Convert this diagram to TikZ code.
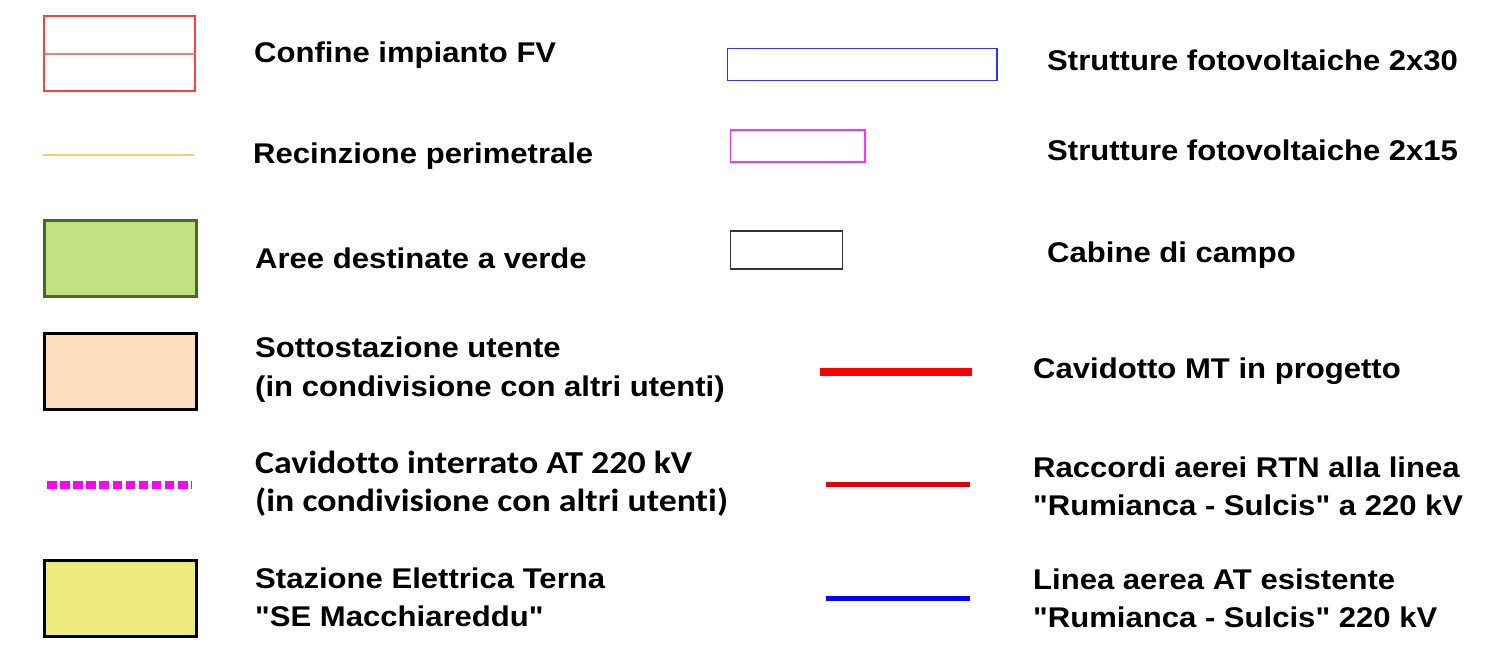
\documentclass[tikz,border=0pt]{standalone}
\usepackage{fontspec}
\newfontfamily\lab[FakeStretch=1.09]{Liberation Sans Bold}
\newfontfamily\labc[FakeStretch=1.12,Ligatures=NoCommon]{Carlito Bold}
\definecolor{confred}{HTML}{FF4040}
\definecolor{confline}{HTML}{FF7A7A}
\definecolor{fence}{HTML}{F0D070}
\definecolor{greenfill}{HTML}{C2E084}
\definecolor{greenedge}{HTML}{4B6B1C}
\definecolor{peach}{HTML}{FFDEC0}
\definecolor{yell}{HTML}{EDEB80}
\definecolor{magent}{HTML}{FF00FF}
\definecolor{rectblue}{HTML}{3030FF}
\definecolor{rectmag}{HTML}{FF30FF}
\definecolor{lred}{HTML}{FF0000}
\definecolor{dred}{HTML}{E00000}
\definecolor{lblue}{HTML}{0000FF}
\tikzset{
  lbl/.style={anchor=base west, inner sep=0pt, font=\lab\fontsize{28.5}{28.5}\selectfont},
  lblc/.style={anchor=base west, inner sep=0pt, font=\labc\fontsize{32}{32}\selectfont},
  thickbox/.style={line width=3pt},
}
\begin{document}
\begin{tikzpicture}[x=1pt,y=-1pt]
\useasboundingbox[fill=white] (0,0) rectangle (1496,651);
% left symbols
\draw[confred, line width=1.5pt] (44,16) rectangle (195,91);
\draw[confline, line width=2pt] (44.5,53.5) -- (194.5,53.5);
\draw[fence, line width=1.5pt] (43,155) -- (194,155);
\draw[thickbox, draw=greenedge, fill=greenfill] (44,220) rectangle (196,296);
\draw[thickbox, draw=black, fill=peach] (44,333) rectangle (196,409);
\draw[magent, line width=7.5pt, dash pattern=on 9.5pt off 3.6pt] (47,485) -- (192,485);
\draw[thickbox, draw=black, fill=yell] (44,560) rectangle (196,636);
% right symbols
\draw[rectblue, line width=1.3pt] (727.5,48.5) rectangle (997,80.5);
\draw[rectmag, line width=1.3pt] (730.5,130) rectangle (865,162);
\draw[black!80, line width=1.3pt] (730.5,231) rectangle (842.5,269);
\draw[lred, line width=8pt] (820,371.5) -- (972,371.5);
\draw[dred, line width=5pt] (826,484.5) -- (970,484.5);
\draw[lblue, line width=5pt] (826,598) -- (970,598);
% left texts
\node[lbl] (t1) at (254,62) {Confine impianto FV};
\node[lbl] (t2) at (253,163) {Recinzione perimetrale};
\node[lbl] (t3) at (255,268) {Aree destinate a verde};
\node[lbl] (t4a) at (255,357) {Sottostazione utente};
\node[lbl] (t4b) at (255,396) {(in condivisione con altri utenti)};
\node[lblc] (t5a) at (255,473) {Cavidotto interrato AT 220 kV};
\node[lblc] (t5b) at (255,511) {(in condivisione con altri utenti)};
\node[lbl] (t6a) at (255,588) {Stazione Elettrica Terna};
\node[lbl] (t6b) at (255,626) {"SE Macchiareddu"};
% right texts
\node[lbl] (r1) at (1047,70) {Strutture fotovoltaiche 2x30};
\node[lbl] (r2) at (1047,160) {Strutture fotovoltaiche 2x15};
\node[lbl] (r3) at (1047,262) {Cabine di campo};
\node[lbl] (r4) at (1033,378) {Cavidotto MT in progetto};
\node[lbl] (r5a) at (1033,477) {Raccordi aerei RTN alla linea};
\node[lbl] (r5b) at (1033,515) {"Rumianca - Sulcis" a 220 kV};
\node[lbl] (r6a) at (1033,589) {Linea aerea AT esistente};
\node[lbl] (r6b) at (1033,627) {"Rumianca - Sulcis" 220 kV};
\end{tikzpicture}
\end{document}
